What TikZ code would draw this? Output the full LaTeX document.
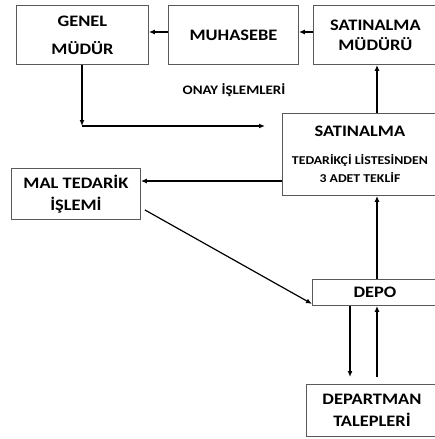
\documentclass[tikz,border=0pt]{standalone}
\usepackage{fontspec}
\setmainfont{Carlito}[FakeStretch=1.15]
\usetikzlibrary{arrows.meta}
\newcommand{\kucuk}{\fontsize{12}{14}\selectfont}
\tikzset{every node/.style={font=\bfseries\fontsize{16}{19}\selectfont},
  kutu/.style={draw=black!65, line width=0.9pt, rectangle, anchor=north west, inner sep=0pt, align=center},
  ok/.style={-{Latex[length=6pt,width=5pt]}, line width=1.6pt}}

\begin{document}
\begin{tikzpicture}[x=1pt, y=-1pt]
  \useasboundingbox (0,0) rectangle (435,439);
  % kutular
  \node[kutu, minimum width=132pt, minimum height=59pt] (genel) at (16,5) {GENEL\\[9pt]MÜDÜR};
  \node[kutu, minimum width=130pt, minimum height=59pt] (muhasebe) at (168,5) {MUHASEBE};
  \node[kutu, minimum width=124pt, minimum height=59pt] (smudur) at (313,5) {SATINALMA\\[1pt]MÜDÜRÜ};
  \node[kutu, minimum width=155pt, minimum height=82pt] (satin) at (282,113)
    {SATINALMA\\[9pt]{\kucuk TEDARİKÇİ LİSTESİNDEN}\\[-1pt]{\kucuk 3 ADET TEKLİF}};
  \node[kutu, minimum width=129pt, minimum height=51pt] (mal) at (11,168) {MAL TEDARİK\\[3pt]İŞLEMİ};
  \node[kutu, minimum width=125pt, minimum height=26pt] (depo) at (312,279) {DEPO};
  \node[kutu, minimum width=131pt, minimum height=52pt] (dept) at (306,384) {DEPARTMAN\\[3pt]TALEPLERİ};
  \node (onay) at (234,90) {\fontsize{13}{15}\selectfont ONAY İŞLEMLERİ};
  % yardimci noktalar
  \coordinate (kose) at (82,126);
  \coordinate (uc) at (265,126);
  \coordinate (sag) at (377,0);
  \coordinate (sol) at (350,0);
  \coordinate (ust) at (0,32);
  \coordinate (orta) at (0,181);
  % oklar
  \draw[ok] (muhasebe.west |- ust) -- (genel.east |- ust);
  \draw[ok] (smudur.west |- ust) -- (muhasebe.east |- ust);
  \draw[ok] (genel.south -| kose) -- (kose);
  \draw[ok] (kose) -- (uc);
  \draw[ok] (satin.north -| sag) -- (smudur.south -| sag);
  \draw[ok] (satin.west |- orta) -- (mal.east |- orta);
  \draw[ok, line width=1.2pt] ([shift={(4,16)}]mal.east) -- ([yshift=2pt]depo.south west);
  \draw[ok] (depo.north -| sag) -- (satin.south -| sag);
  \draw[ok, shorten >=7pt] (depo.south -| sol) -- (dept.north -| sol);
  \draw[ok, shorten <=7pt] (dept.north -| sag) -- (depo.south -| sag);
\end{tikzpicture}
\end{document}
